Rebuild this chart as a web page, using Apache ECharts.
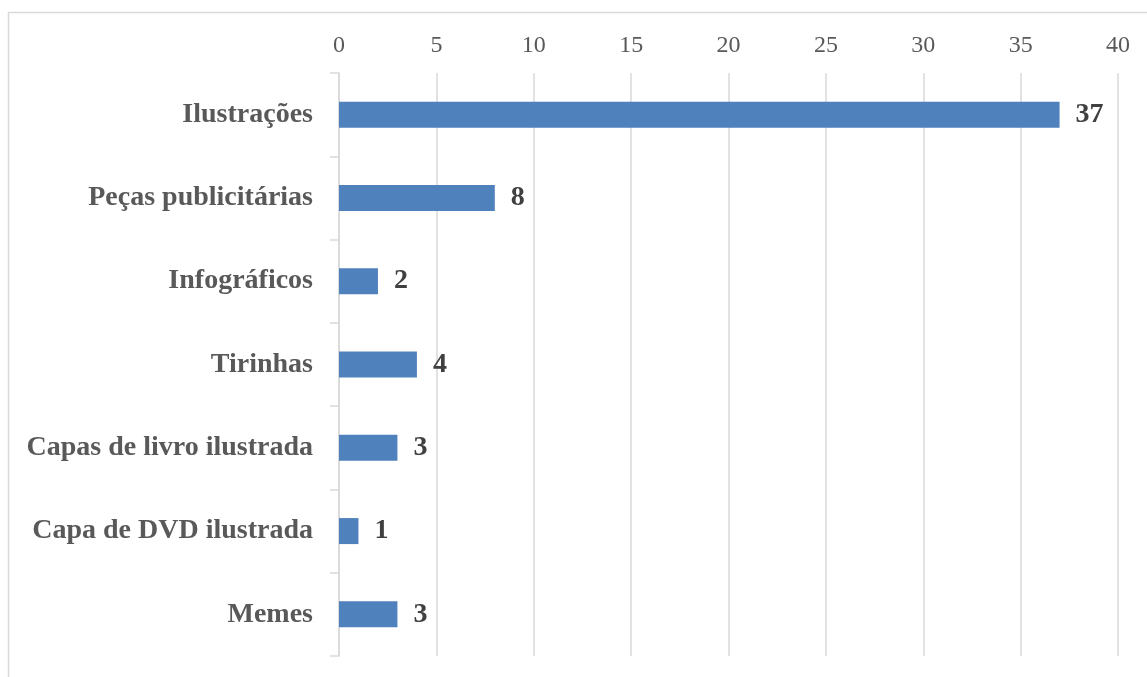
<!DOCTYPE html>
<html>
<head>
<meta charset="utf-8">
<script src="https://cdn.jsdelivr.net/npm/echarts@6/dist/echarts.min.js"></script>
<style>
  html, body { margin: 0; padding: 0; background: #fff; }
  #chart { width: 1147px; height: 677px; }
</style>
</head>
<body>
<div id="chart"></div>
<script>
// Categories top to bottom, with their counts
const categories = [
  'Ilustrações',
  'Peças publicitárias',
  'Infográficos',
  'Tirinhas',
  'Capas de livro ilustrada',
  'Capa de DVD ilustrada',
  'Memes'
];
const counts = [37, 8, 2, 4, 3, 1, 3];
const axisMin = 0;
const axisMax = 40;
const axisStep = 5;

const serif = '"Liberation Serif", "DejaVu Serif", serif';

const chart = echarts.init(document.getElementById('chart'), null, { renderer: 'canvas' });
chart.setOption({
  backgroundColor: '#ffffff',
  animation: false,
  graphic: [{
    type: 'rect',
    shape: { x: 8.5, y: 12.5, width: 1200, height: 700 },
    style: { fill: 'none', stroke: '#D9D9D9', lineWidth: 1.5 },
    silent: true
  }],
  grid: { left: 339, right: 29, top: 73, bottom: 21 },
  xAxis: {
    type: 'value',
    position: 'top',
    min: axisMin,
    max: axisMax,
    interval: axisStep,
    axisLine: { show: false },
    axisTick: { show: false },
    axisLabel: { color: '#595959', fontFamily: serif, fontSize: 24, margin: 15 },
    splitLine: { show: true, lineStyle: { color: '#D9D9D9', width: 1.5 } }
  },
  yAxis: {
    type: 'category',
    data: categories,
    inverse: true,
    axisLine: { show: true, lineStyle: { color: '#D9D9D9', width: 1.5 } },
    axisTick: { show: true, length: 9, lineStyle: { color: '#D9D9D9', width: 1.5 } },
    axisLabel: { color: '#595959', fontFamily: serif, fontSize: 28, fontWeight: 'bold', margin: 26, padding: [3, 0, 0, 0] }
  },
  series: [{
    type: 'bar',
    data: counts,
    barWidth: 26,
    itemStyle: { color: '#4F81BD' },
    label: {
      show: true,
      position: 'right',
      distance: 16,
      color: '#404040',
      fontFamily: serif,
      fontSize: 28,
      fontWeight: 'bold'
    }
  }]
});
</script>
</body>
</html>
